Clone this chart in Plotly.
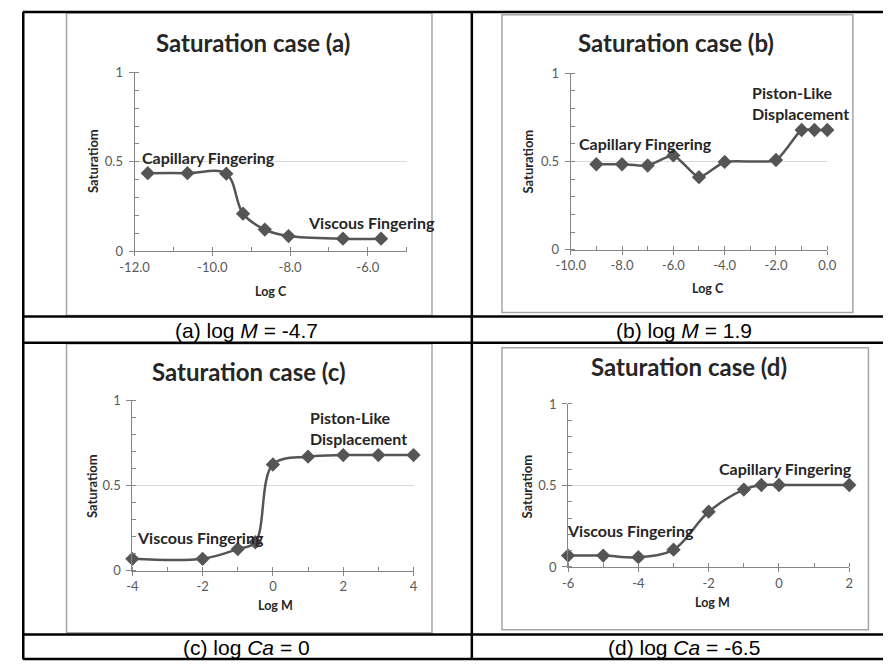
import plotly.graph_objects as go

W, H = 893, 668

# Series: saturation against log C (a, b) and log M (c, d)
a_logc = [-11.66, -10.64, -9.64, -9.21, -8.65, -8.04, -6.64, -5.66]
a_sat = [0.436, 0.436, 0.433, 0.209, 0.120, 0.084, 0.069, 0.069]

b_logc = [-9.0, -8.0, -7.0, -6.0, -5.0, -4.0, -2.0, -1.0, -0.5, 0.0]
b_sat = [0.484, 0.484, 0.477, 0.534, 0.411, 0.497, 0.508, 0.678, 0.678, 0.678]

c_logm = [-4.0, -2.0, -1.0, -0.5, 0.0, 1.0, 2.0, 3.0, 4.0]
c_sat = [0.071, 0.071, 0.128, 0.168, 0.624, 0.670, 0.679, 0.679, 0.679]

d_logm = [-6.0, -5.0, -4.0, -3.0, -2.0, -1.0, -0.5, 0.0, 2.0]
d_sat = [0.070, 0.070, 0.060, 0.106, 0.339, 0.475, 0.503, 0.503, 0.503]

# Tick labels
a_xticks = [-12, -10, -8, -6]
a_xlabels = ["-12.0", "-10.0", "-8.0", "-6.0"]
b_xticks = [-10, -8, -6, -4, -2, 0]
b_xlabels = ["-10.0", "-8.0", "-6.0", "-4.0", "-2.0", "0.0"]
c_xticks = [-4, -2, 0, 2, 4]
c_xlabels = ["-4", "-2", "0", "2", "4"]
d_xticks = [-6, -4, -2, 0, 2]
d_xlabels = ["-6", "-4", "-2", "0", "2"]
y_ticks = [0, 0.5, 1]
y_labels = ["0", "0.5", "1"]

titles = ["Saturation case (a)", "Saturation case (b)", "Saturation case (c)", "Saturation case (d)"]
captions = ["(a) log <i>M</i> = -4.7", "(b) log <i>M</i> = 1.9",
            "(c) log <i>Ca</i> = 0", "(d) log <i>Ca</i> = -6.5"]

FONT = "Lato"
LINE = "#555555"
AXIS = "#868686"
GRID = "#d9d9d9"
TICKTXT = "#595959"


def px(x, y):
    return x / W, 1 - y / H


# Plot-area pixel boxes: (left, right, top(y=1), bottom(y=0)) and x ranges
panels = [
    dict(box=(123, 403, 66, 249), xr=[-12, -5], x=a_logc, y=a_sat, tv=a_xticks, tt=a_xlabels,
         smooth=1.0),
    dict(box=(571.7, 835.7, 66.7, 247.7), xr=[-10, 0], x=b_logc, y=b_sat, tv=b_xticks, tt=b_xlabels,
         smooth=0.6),
    dict(box=(120.7, 410, 402, 576.7), xr=[-4, 4], x=c_logm, y=c_sat, tv=c_xticks, tt=c_xlabels,
         smooth=1.0),
    dict(box=(569, 858.3, 405.7, 572.7), xr=[-6, 2], x=d_logm, y=d_sat, tv=d_xticks, tt=d_xlabels,
         smooth=1.0),
]

fig = go.Figure()
layout = {}
for i, p in enumerate(panels):
    n = "" if i == 0 else str(i + 1)
    l, r, t, b = p["box"]
    fig.add_trace(go.Scatter(
        x=p["x"], y=p["y"], xaxis="x" + n, yaxis="y" + n,
        mode="lines+markers", cliponaxis=False, showlegend=False,
        line=dict(color=LINE, width=2.5, shape="spline", smoothing=p["smooth"]),
        marker=dict(symbol="diamond", size=11, color=LINE),
    ))
    layout["xaxis" + n] = dict(
        domain=[l / W, r / W], range=p["xr"], anchor="y" + n,
        tickmode="array", tickvals=p["tv"], ticktext=p["tt"],
        ticks="outside", ticklen=4, tickcolor=AXIS, tickwidth=1,
        minor=dict(dtick=1, tick0=0, ticks="inside", ticklen=4, tickcolor=AXIS, showgrid=False),
        showline=True, linecolor=AXIS, linewidth=1, showgrid=False, zeroline=False,
        tickfont=dict(family=FONT, size=13, color=TICKTXT), fixedrange=True,
    )
    layout["yaxis" + n] = dict(
        domain=[1 - b / H, 1 - t / H], range=[0, 1], anchor="x" + n,
        tickmode="array", tickvals=y_ticks, ticktext=y_labels,
        ticks="outside", ticklen=5, tickcolor=AXIS, tickwidth=1,
        minor=dict(dtick=0.1, tick0=0, ticks="inside", ticklen=4, tickcolor=AXIS, showgrid=False),
        showline=True, linecolor=AXIS, linewidth=1, showgrid=True, gridcolor=GRID, gridwidth=1,
        zeroline=False, ticklabelstandoff=3,
        tickfont=dict(family=FONT, size=13, color=TICKTXT), fixedrange=True,
    )

shapes = []
# Chart frames
for (x0, x1, y0, y1) in [(53, 429, 5, 315), (501, 862, 7, 312), (53, 429, 344, 640), (501, 878, 348, 637)]:
    a0, b0 = px(x0, y1)
    a1, b1 = px(x1, y0)
    shapes.append(dict(type="rect", xref="paper", yref="paper", x0=a0, x1=a1, y0=b0, y1=b1,
                       line=dict(color="#a6a6a6", width=1.5), fillcolor="rgba(0,0,0,0)", layer="below"))

# Table rules
for yy in [4, 316, 343, 642, 667]:
    shapes.append(dict(type="line", xref="paper", yref="paper", x0=8 / W, x1=1.0,
                       y0=1 - yy / H, y1=1 - yy / H, line=dict(color="black", width=2.5)))
for xx in [8.5, 470]:
    shapes.append(dict(type="line", xref="paper", yref="paper", x0=xx / W, x1=xx / W,
                       y0=1 - 667 / H, y1=1 - 4 / H, line=dict(color="black", width=2.5)))

ann = []


def label(text, x, y, size, bold=True, xanchor="center", angle=0, color="#262626", family=FONT):
    a, b = px(x, y)
    ann.append(dict(text=("<b>%s</b>" % text) if bold else text, x=a, y=b, xref="paper", yref="paper",
                    xanchor=xanchor, yanchor="middle", showarrow=False, textangle=angle,
                    font=dict(family=family, size=size, color=color), align="left"))


title_pos = [(245, 35), (680, 35), (240, 372), (693, 367)]
for t, (x, y) in zip(titles, title_pos):
    label(t, x, y, 24)

for (x, y) in [(81, 157), (528, 157), (80, 490), (527, 490)]:
    label("Saturatiom", x, y, 13, angle=-90)

label("Log C", 263, 290, 12.5)
label("Log C", 713, 287, 12.5)
label("Log M", 268, 612, 12.5)
label("Log M", 718, 609, 12.5)

label("Capillary Fingering", 129, 153, 16, xanchor="left")
label("Viscous Fingering", 299, 220, 16, xanchor="left")
label("Capillary Fingering", 578, 139, 16, xanchor="left")
label("Piston-Like<br>Displacement", 756, 97, 16, xanchor="left")
label("Piston-Like<br>Displacement", 301, 430, 16, xanchor="left")
label("Viscous Fingering", 123, 543, 16, xanchor="left")
label("Capillary Fingering", 722, 472, 16, xanchor="left")
label("Viscous Fingering", 566, 535, 16, xanchor="left")

for c, (x, y) in zip(captions, [(238, 330), (688, 330), (238, 655), (688, 655)]):
    label(c, x, y, 21, bold=False, color="black", family="Liberation Sans")

fig.update_layout(
    width=W, height=H, margin=dict(l=0, r=0, t=0, b=0),
    paper_bgcolor="white", plot_bgcolor="white",
    shapes=shapes, annotations=ann, **layout,
)

fig.write_html("out.html", config={"displayModeBar": False},
               post_script="document.body.style.margin='0';document.body.style.overflow='hidden';")
